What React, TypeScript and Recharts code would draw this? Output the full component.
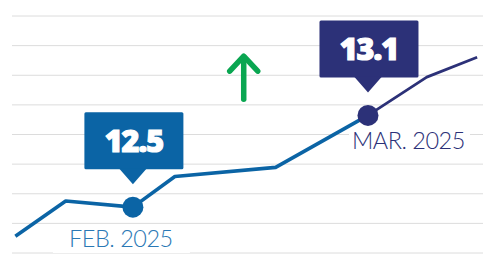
import { ComposedChart, Line, XAxis, YAxis, CartesianGrid, ReferenceDot } from 'recharts';

// day of year (Jan 1 = 0) and index value
const DAYS = [17, 23, 31, 36, 48, 59, 66, 72];
const VALUES = [12.31, 12.54, 12.5, 12.7, 12.76, 13.1, 13.35, 13.48];
const SPLIT_INDEX = 5; // line turns navy from the March point on

const HIGHLIGHTS = [
  { index: 2, value: '12.5', date: 'FEB. 2025' },
  { index: 5, value: '13.1', date: 'MAR. 2025' },
];

const Y_DOMAIN: [number, number] = [12.2, 13.75];
const X_DOMAIN: [number, number] = [16.6, 72.7];
const GRID_TICKS = Array.from({ length: 9 }, (_, i) => Y_DOMAIN[0] + (i * (Y_DOMAIN[1] - Y_DOMAIN[0])) / 8);

const ARROW_AT = { day: 44.2, value: 13.35 };

const BLUE = '#0b64a5';
const NAVY = '#2c3178';
const GREEN = '#0aa651';

const data = DAYS.map((day, i) => ({
  day,
  value: VALUES[i],
  early: i <= SPLIT_INDEX ? VALUES[i] : null,
  late: i >= SPLIT_INDEX ? VALUES[i] : null,
}));

// per-highlight look: colour and where the date label sits
const HIGHLIGHT_STYLE: Record<number, { color: string; dateColor: string; anchor: 'middle' | 'start'; dx: number; dy: number; bgPadL: number; bgPadR: number }> = {
  2: { color: BLUE, dateColor: '#2a78b5', anchor: 'middle', dx: -12, dy: 40, bgPadL: 68, bgPadR: 69 },
  5: { color: NAVY, dateColor: NAVY, anchor: 'start', dx: -16, dy: 34, bgPadL: 3, bgPadR: 118 },
};

// eslint-disable-next-line @typescript-eslint/no-explicit-any
function Marker(props: any) {
  const { cx, cy, index } = props;
  const h = HIGHLIGHTS.find(x => x.index === index);
  if (!h || cx == null || cy == null) return <g key={`m-${index}`} />;
  const s = HIGHLIGHT_STYLE[index];
  const boxW = 99;
  const boxH = 57;
  const tipY = cy - 23;
  const boxBottom = tipY - 15;
  const boxTop = boxBottom - boxH;
  const textX = cx + s.dx;
  return (
    <g key={`m-${index}`}>
      <rect x={textX - s.bgPadL} y={cy + s.dy - 20} width={s.bgPadL + s.bgPadR} height={26} fill="#ffffff" />
      <circle cx={cx} cy={cy} r={10.5} fill={s.color} />
      <rect x={cx - boxW / 2 + 1} y={boxTop} width={boxW} height={boxH} rx={1.5} fill={s.color} />
      <polygon points={`${cx - 14},${boxBottom - 1} ${cx + 14},${boxBottom - 1} ${cx},${tipY}`} fill={s.color} />
      <text
        x={cx + 1}
        y={boxTop + 39.5}
        textAnchor="middle"
        fill="#ffffff"
        stroke="#ffffff"
        strokeWidth={1.2}
        fontFamily="'Open Sans', sans-serif"
        fontWeight={800}
        fontSize={30.5}
        letterSpacing={-1}
      >
        {h.value}
      </text>
      <text
        x={textX}
        y={cy + s.dy}
        textAnchor={s.anchor}
        fill={s.dateColor}
        fontFamily="Lato, sans-serif"
        fontWeight={300}
        fontSize={23.5}
        letterSpacing={-0.5}
      >
        {h.date}
      </text>
    </g>
  );
}

// eslint-disable-next-line @typescript-eslint/no-explicit-any
function UpArrow(props: any) {
  const { cx, cy } = props;
  if (cx == null || cy == null) return <g />;
  return (
    <g stroke={GREEN} strokeWidth={5.5} strokeLinecap="round" strokeLinejoin="round" fill="none">
      <line x1={cx} y1={cy - 20} x2={cx} y2={cy + 22} />
      <polyline points={`${cx - 14},${cy - 6} ${cx},${cy - 21} ${cx + 14},${cy - 6}`} />
    </g>
  );
}

export default function App() {
  return (
    <div style={{ position: 'absolute', left: 0, top: 0, width: 483, height: 256, background: '#ffffff' }}>
      <ComposedChart width={483} height={256} data={data} margin={{ top: 16, right: 0, bottom: 3, left: 12 }}>
        <CartesianGrid vertical={false} stroke="#dcdcdc" strokeWidth={1} />
        <XAxis dataKey="day" type="number" domain={X_DOMAIN} allowDataOverflow hide />
        <YAxis type="number" domain={Y_DOMAIN} ticks={GRID_TICKS} allowDataOverflow hide />
        <ReferenceDot x={ARROW_AT.day} y={ARROW_AT.value} shape={UpArrow} />
        <Line
          dataKey="early"
          type="linear"
          stroke={BLUE}
          strokeWidth={3.6}
          strokeLinejoin="round"
          dot={false}
          activeDot={false}
          connectNulls={false}
          isAnimationActive={false}
        />
        <Line
          dataKey="late"
          type="linear"
          stroke={NAVY}
          strokeWidth={2.8}
          strokeLinejoin="round"
          dot={false}
          activeDot={false}
          connectNulls={false}
          isAnimationActive={false}
        />
        <Line
          dataKey="value"
          type="linear"
          stroke="none"
          dot={Marker}
          activeDot={false}
          isAnimationActive={false}
        />
      </ComposedChart>
    </div>
  );
}
